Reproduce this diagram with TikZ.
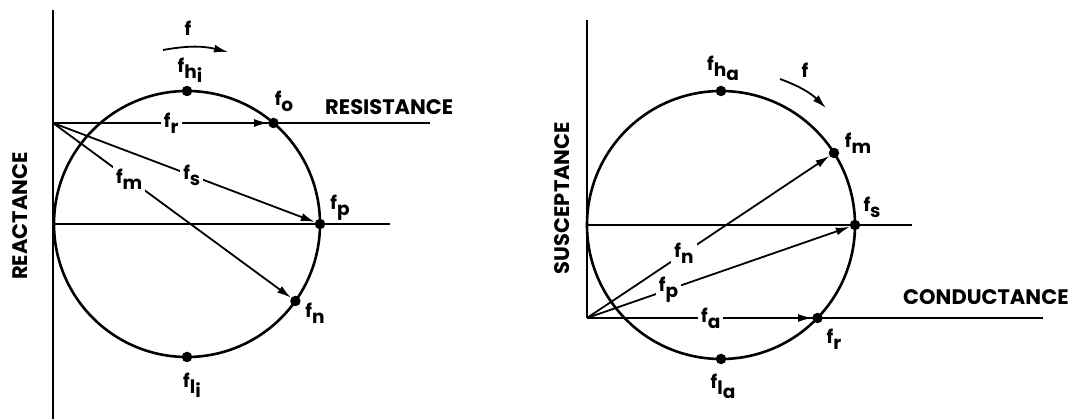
\documentclass[tikz,border=0pt]{standalone}
\usepackage{fontspec}
\setmainfont{Poppins}
\usetikzlibrary{arrows.meta}
\newcommand\fsub[1]{f\raisebox{-0.6ex}{#1}}
\newcommand\fsubb[2]{f\raisebox{-0.6ex}{#1\raisebox{-0.4ex}{#2}}}
\tikzset{
  axis/.style={line width=2pt},
  ring/.style={line width=2.6pt},
  vec/.style={line width=1.8pt,-{Latex[length=14pt,width=8pt]}},
  dot/.style={circle,fill=black,inner sep=0pt,minimum size=10.5pt},
  lab/.style={font=\fontsize{18.5}{18.5}\selectfont\bfseries,inner sep=1pt},
  onlab/.style={lab,fill=white,inner sep=3pt},
  axlab/.style={font=\fontsize{21}{21}\selectfont\bfseries,inner sep=0pt},
}
\begin{document}
\begin{tikzpicture}[x=1pt,y=-1pt]
\useasboundingbox (0,0) rectangle (1082,419);
% ---------- left diagram ----------
\coordinate (Ltop) at (53,10);
\coordinate (Lbot) at (53,419);
\coordinate (O1) at (53,123);
\coordinate (Rend) at (430,123);
\coordinate (Lc0) at (53,224);
\coordinate (Lc1) at (390,224);
\draw[axis] (Ltop) -- (Lbot);
\draw[axis] (O1) -- (Rend);
\draw[axis] (Lc0) -- (Lc1);
\draw[ring] (187,224) circle[radius=133];
\node[dot] (fhi) at (187,91) {};
\node[dot] (fli) at (187,357) {};
\node[dot] (fo) at (273.5,123) {};
\node[dot] (fp) at (320,224) {};
\node[dot] (fn) at (295.4,301) {};
\draw[vec] (O1) -- node[onlab,pos=0.55]{\fsub{r}} (fo);
\draw[vec] (O1) -- node[onlab,pos=0.53]{\fsub{s}} (fp);
\draw[vec] (O1) -- node[onlab,pos=0.32]{\fsub{m}} (fn);
\node[lab] (lhi) at (190,70) {\fsubb{h}{i}};
\node[lab] (lli) at (192,385) {\fsubb{l}{i}};
\node[lab] (lo) at (284,101) {\fsub{o}};
\node[lab] (lp) at (340,208) {\fsub{p}};
\node[lab] (ln) at (315,313) {\fsub{n}};
\node[lab] (lf1) at (188,28) {f};
\coordinate (a1) at (163,50);
\coordinate (a2) at (228,52);
\draw[vec] (a1) to[bend left=12] (a2);
\node[axlab,anchor=west] (res) at (325,107) {RESISTANCE};
\node[axlab,rotate=90] (rea) at (20,216) {REACTANCE};
% ---------- right diagram ----------
\coordinate (Rtop) at (587,20);
\coordinate (O2) at (587,318);
\coordinate (Gend) at (1043,318);
\coordinate (Rc0) at (587,225);
\coordinate (Rc1) at (912,225);
\draw[axis] (Rtop) -- (O2);
\draw[axis] (O2) -- (Gend);
\draw[axis] (Rc0) -- (Rc1);
\draw[ring] (721,225) circle[radius=134];
\node[dot] (fha) at (721,91) {};
\node[dot] (fla) at (721,359) {};
\node[dot] (fm) at (834,153) {};
\node[dot] (fs) at (855,225) {};
\node[dot] (fr) at (817.5,318) {};
\draw[vec] (O2) -- node[onlab,pos=0.40]{\fsub{n}} (fm);
\draw[vec] (O2) -- node[onlab,pos=0.31]{\fsub{p}} (fs);
\draw[vec] (O2) -- node[onlab,pos=0.55]{\fsub{a}} (fr);
\node[lab] (lha) at (723,68) {\fsubb{h}{a}};
\node[lab] (lla) at (723,386) {\fsubb{l}{a}};
\node[lab] (lm) at (858,143) {\fsub{m}};
\node[lab] (ls) at (872,207) {\fsub{s}};
\node[lab] (lr) at (834,339) {\fsub{r}};
\node[lab] (lf2) at (805,70) {f};
\coordinate (b1) at (780,79);
\coordinate (b2) at (826,108);
\draw[vec] (b1) to[bend left=12] (b2);
\node[axlab,anchor=west] (con) at (903,297) {CONDUCTANCE};
\node[axlab,rotate=90] (sus) at (562,198) {SUSCEPTANCE};
\end{tikzpicture}
\end{document}
